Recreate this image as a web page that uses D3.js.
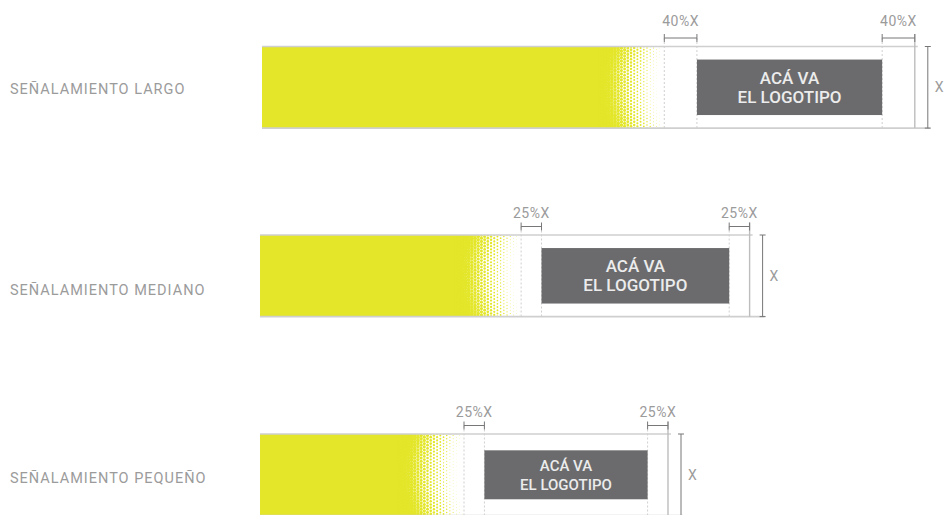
<!DOCTYPE html>
<html>
<head>
<meta charset="utf-8">
<script src="https://cdn.jsdelivr.net/npm/d3@7"></script>
<style>
  body { margin: 0; background: #fff; }
  text { font-family: Roboto, "Noto Sans", sans-serif; }
</style>
</head>
<body>
<div id="chart"></div>
<script>
// sign sizes, all measured in units of X (the sign height)
var signNames = ["SEÑALAMIENTO LARGO", "SEÑALAMIENTO MEDIANO", "SEÑALAMIENTO PEQUEÑO"];
var signLengths = [8, 6, 5];
var clearRatios = [0.40, 0.25, 0.25];
var clearLabels = ["40%X", "25%X", "25%X"];
var logoWidths = [2.27, 2.3, 2.0];
var logoHeights = [0.68, 0.68, 0.6];
var logoLines = ["ACÁ VA", "EL LOGOTIPO"];
var fadeWidth = 0.8;

// layout
var width = 945, height = 515;
var unitPx = 81.6;
var panelLeft = [262, 260, 260];
var panelTop = [46.5, 235, 434];
var nameY = [89, 290, 478];
var clearLabelDy = [21, 17, 17];
var logoFont = [17, 17, 15];

var yellow = "#e3e629";
var guide = "#cfcfcf";
var dark = "#777";

var svg = d3.select("#chart")
  .append("svg")
    .attr("width", width)
    .attr("height", height);

signNames.forEach(function(name, i) {
  var L = signLengths[i], c = clearRatios[i];
  var x = d3.scaleLinear().domain([0, L]).range([panelLeft[i], panelLeft[i] + L * unitPx]);
  var y = d3.scaleLinear().domain([0, 1]).range([panelTop[i], panelTop[i] + unitPx]);

  var logoR = L - c, logoL = logoR - logoWidths[i];
  var clearStart = logoL - c, fadeStart = clearStart - fadeWidth;
  var g = svg.append("g");

  // label on the left
  g.append("text")
    .attr("x", 10).attr("y", nameY[i])
    .attr("dy", "0.35em")
    .attr("fill", "#9b9b9b")
    .style("font-size", "14.5px")
    .style("letter-spacing", "1px")
    .text(name);

  // solid yellow part
  g.append("rect")
    .attr("x", x(0)).attr("y", y(0))
    .attr("width", x(fadeStart) - x(0))
    .attr("height", y(1) - y(0))
    .attr("fill", yellow);

  // halftone fade
  var clipId = "clip" + i;
  svg.append("clipPath").attr("id", clipId)
    .append("rect")
      .attr("x", x(fadeStart) - 1).attr("y", y(0))
      .attr("width", x(clearStart) - x(fadeStart) + 1)
      .attr("height", y(1) - y(0));
  var s = 3.2, xs = x(fadeStart), xe = x(clearStart) - 2;
  var dots = [];
  d3.range(0, Math.ceil((xe - xs) / s) + 1).forEach(function(j) {
    d3.range(-1, Math.ceil(unitPx / s) + 1).forEach(function(k) {
      var px = xs + j * s;
      var py = y(0) + k * s + (j % 2) * s / 2;
      var m = (py - (y(0) + y(1)) / 2) / (unitPx / 2);
      var t = (px - xs) / (xe - xs) - 0.12 * m * m;
      t = Math.max(0, Math.min(1, t));
      var r = s * 0.75 * Math.pow(1 - t, 1.1);
      if (r > 0.15) dots.push({ x: px, y: py, r: r });
    });
  });
  g.append("g")
    .attr("clip-path", "url(#" + clipId + ")")
    .selectAll("circle")
    .data(dots)
    .enter()
    .append("circle")
      .attr("cx", function(d) { return d.x; })
      .attr("cy", function(d) { return d.y; })
      .attr("r", function(d) { return d.r; })
      .attr("fill", yellow);

  var dimX = x(L) + 13;
  var bracketY = y(0) - 8.5;

  // frame top and bottom
  g.append("line")
    .attr("x1", x(0)).attr("x2", x(L) + 3)
    .attr("y1", y(0)).attr("y2", y(0))
    .attr("stroke", guide).attr("stroke-width", 1.6);
  g.append("line")
    .attr("x1", x(0)).attr("x2", dimX + 2)
    .attr("y1", y(1)).attr("y2", y(1))
    .attr("stroke", guide).attr("stroke-width", 1.6);

  // guide lines
  [clearStart, logoL, logoR].forEach(function(v) {
    g.append("line")
      .attr("x1", x(v)).attr("x2", x(v))
      .attr("y1", bracketY).attr("y2", y(1))
      .attr("stroke", guide).attr("stroke-width", 1)
      .attr("stroke-dasharray", "2,2");
  });
  g.append("line")
    .attr("x1", x(L)).attr("x2", x(L))
    .attr("y1", bracketY - 4).attr("y2", y(1))
    .attr("stroke", "#bdbdbd").attr("stroke-width", 1.4);

  // logo box
  var ly0 = y(0.5 - logoHeights[i] / 2), ly1 = y(0.5 + logoHeights[i] / 2);
  g.append("rect")
    .attr("x", x(logoL)).attr("y", ly0)
    .attr("width", x(logoR) - x(logoL))
    .attr("height", ly1 - ly0)
    .attr("fill", "#6b6b6d");
  logoLines.forEach(function(t, k) {
    g.append("text")
      .attr("x", (x(logoL) + x(logoR)) / 2)
      .attr("y", y(0.5) + (k === 0 ? -9.5 : 9.5))
      .attr("dy", "0.36em")
      .attr("text-anchor", "middle")
      .attr("fill", "#ececec")
      .style("font-size", logoFont[i] + "px")
      .style("font-weight", 500)
      .text(t);
  });

  // clearance brackets
  [[clearStart, logoL], [logoR, L]].forEach(function(b) {
    var bx0 = x(b[0]), bx1 = x(b[1]);
    g.append("path")
      .attr("d", "M" + bx0 + "," + (bracketY - 4) + "V" + (bracketY + 4) +
                 "M" + bx0 + "," + bracketY + "H" + bx1 +
                 "M" + bx1 + "," + (bracketY - 4) + "V" + (bracketY + 4))
      .attr("fill", "none").attr("stroke", dark).attr("stroke-width", 1);
    g.append("text")
      .attr("x", (bx0 + bx1) / 2)
      .attr("y", y(0) - clearLabelDy[i])
      .attr("text-anchor", "middle")
      .attr("fill", "#9b9b9b")
      .style("font-size", "14px")
      .style("letter-spacing", "0.5px")
      .text(clearLabels[i]);
  });

  // height dimension
  g.append("path")
    .attr("d", "M" + (dimX - 3) + "," + y(0) + "H" + (dimX + 3) +
               "M" + dimX + "," + y(0) + "V" + y(1) +
               "M" + (dimX - 3) + "," + y(1) + "H" + (dimX + 3))
    .attr("fill", "none").attr("stroke", dark).attr("stroke-width", 1);
  g.append("text")
    .attr("x", dimX + 7).attr("y", y(0.5))
    .attr("dy", "0.35em")
    .attr("fill", "#9b9b9b")
    .style("font-size", "14px")
    .text("X");
});
</script>
</body>
</html>
